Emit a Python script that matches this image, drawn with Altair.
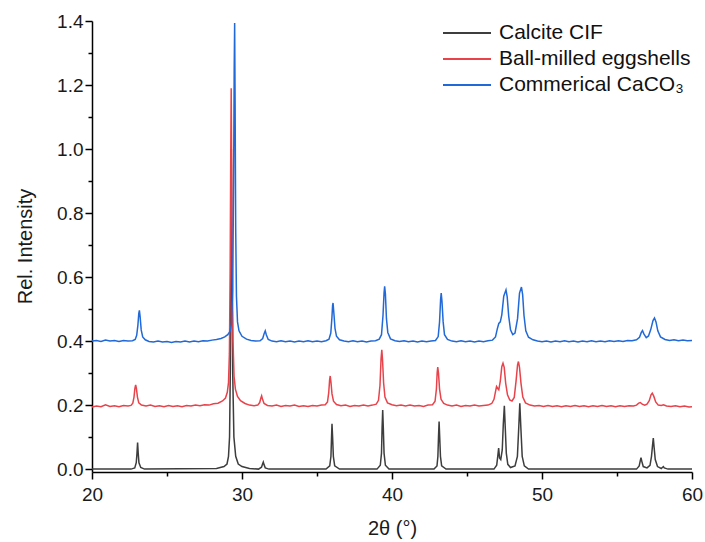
import altair as alt
import pandas as pd

# Series names and line colours
SERIES = ["Calcite CIF", "Ball-milled eggshells", "Commerical CaCO₃"]
COLORS = ["#3d3d3d", "#e8434b", "#2169d8"]

# (2θ, relative intensity) pairs for each pattern
calcite_cif = [
    (20.0, 0.0), (22.6, 0.0), (22.85, 0.004), (22.95, 0.02), (23.0, 0.05), (23.04, 0.083),
    (23.08, 0.05), (23.13, 0.02), (23.25, 0.005), (23.5, 0.0),
    (28.3, 0.002), (28.8, 0.008), (29.0, 0.016), (29.1, 0.04), (29.17, 0.1), (29.22, 0.3),
    (29.26, 0.65), (29.29, 1.0), (29.33, 0.65), (29.38, 0.3), (29.46, 0.1), (29.58, 0.04),
    (29.75, 0.016), (30.0, 0.008), (30.5, 0.002),
    (31.1, 0.0), (31.3, 0.006), (31.37, 0.016), (31.42, 0.022), (31.47, 0.014), (31.55, 0.004), (31.8, 0.0),
    (35.6, 0.0), (35.85, 0.01), (35.93, 0.04), (35.97, 0.1), (36.0, 0.142), (36.04, 0.1),
    (36.09, 0.04), (36.18, 0.01), (36.5, 0.0),
    (39.0, 0.0), (39.22, 0.012), (39.3, 0.05), (39.34, 0.13), (39.38, 0.185), (39.42, 0.13),
    (39.47, 0.05), (39.56, 0.012), (39.8, 0.0),
    (42.8, 0.0), (43.0, 0.01), (43.06, 0.04), (43.1, 0.1), (43.14, 0.149), (43.18, 0.1),
    (43.23, 0.04), (43.31, 0.01), (43.6, 0.0),
    (46.8, 0.0), (46.98, 0.012), (47.05, 0.04), (47.11, 0.066), (47.17, 0.035), (47.25, 0.03),
    (47.35, 0.06), (47.42, 0.14), (47.49, 0.198), (47.55, 0.13), (47.62, 0.05), (47.72, 0.015),
    (47.9, 0.005), (48.2, 0.01), (48.36, 0.04), (48.45, 0.13), (48.52, 0.206), (48.59, 0.13),
    (48.68, 0.04), (48.82, 0.01), (49.1, 0.0),
    (56.3, 0.0), (56.48, 0.01), (56.55, 0.026), (56.6, 0.036), (56.65, 0.025), (56.75, 0.008),
    (57.0, 0.004), (57.2, 0.012), (57.3, 0.04), (57.37, 0.075), (57.42, 0.097), (57.47, 0.07),
    (57.55, 0.03), (57.7, 0.008), (57.95, 0.002), (58.04, 0.006), (58.09, 0.008), (58.15, 0.004),
    (58.4, 0.0), (60.0, 0.0),
]

eggshells = [
    (20.0, 0.194), (20.3, 0.197), (20.6, 0.195), (20.9, 0.201), (21.2, 0.196), (21.5, 0.198),
    (21.8, 0.195), (22.1, 0.199), (22.4, 0.197),
    (22.6, 0.199), (22.72, 0.206), (22.8, 0.225), (22.86, 0.252), (22.91, 0.263), (22.96, 0.252),
    (23.03, 0.225), (23.12, 0.207), (23.3, 0.2),
    (23.6, 0.197), (23.9, 0.2), (24.2, 0.196), (24.5, 0.198), (24.8, 0.195), (25.1, 0.199),
    (25.4, 0.196), (25.7, 0.198), (26.0, 0.195), (26.3, 0.199), (26.6, 0.197), (26.9, 0.2),
    (27.2, 0.198), (27.5, 0.201), (27.8, 0.2), (28.1, 0.204), (28.4, 0.206), (28.7, 0.213),
    (28.9, 0.222), (29.02, 0.24), (29.1, 0.27), (29.16, 0.36), (29.21, 0.62), (29.25, 0.98),
    (29.28, 1.19), (29.31, 0.95), (29.35, 0.62), (29.4, 0.4), (29.47, 0.29), (29.56, 0.25),
    (29.7, 0.227), (29.9, 0.214), (30.2, 0.205), (30.5, 0.2), (30.8, 0.198),
    (31.05, 0.2), (31.18, 0.208), (31.26, 0.222), (31.31, 0.229), (31.37, 0.218), (31.47, 0.205),
    (31.7, 0.199), (32.0, 0.197), (32.3, 0.2), (32.6, 0.196), (32.9, 0.199), (33.2, 0.197),
    (33.5, 0.2), (33.8, 0.196), (34.1, 0.198), (34.4, 0.196), (34.7, 0.199), (35.0, 0.197),
    (35.3, 0.2), (35.55, 0.201), (35.7, 0.21), (35.78, 0.238), (35.84, 0.278), (35.88, 0.291),
    (35.93, 0.272), (36.0, 0.235), (36.1, 0.212), (36.3, 0.202), (36.6, 0.198), (36.9, 0.2),
    (37.2, 0.196), (37.5, 0.199), (37.8, 0.197), (38.1, 0.2), (38.4, 0.197), (38.7, 0.2),
    (38.95, 0.203), (39.1, 0.215), (39.2, 0.262), (39.27, 0.345), (39.32, 0.373), (39.37, 0.34),
    (39.44, 0.27), (39.53, 0.225), (39.7, 0.207), (40.0, 0.201), (40.3, 0.198), (40.6, 0.2),
    (40.9, 0.197), (41.2, 0.2), (41.5, 0.197), (41.8, 0.199), (42.1, 0.196), (42.4, 0.2),
    (42.7, 0.201), (42.87, 0.212), (42.96, 0.25), (43.01, 0.3), (43.05, 0.319), (43.1, 0.3),
    (43.17, 0.25), (43.27, 0.218), (43.45, 0.205), (43.7, 0.2), (44.0, 0.197), (44.3, 0.2),
    (44.6, 0.196), (44.9, 0.199), (45.2, 0.197), (45.5, 0.2), (45.8, 0.197), (46.1, 0.199),
    (46.4, 0.2), (46.65, 0.205), (46.8, 0.218), (46.9, 0.242), (46.97, 0.258), (47.05, 0.252),
    (47.12, 0.248), (47.22, 0.275), (47.32, 0.32), (47.4, 0.331), (47.48, 0.318), (47.58, 0.268),
    (47.7, 0.232), (47.85, 0.216), (48.0, 0.213), (48.15, 0.224), (48.27, 0.275), (48.37, 0.326),
    (48.43, 0.336), (48.5, 0.318), (48.6, 0.268), (48.72, 0.225), (48.9, 0.207), (49.2, 0.2),
    (49.5, 0.197), (49.8, 0.199), (50.1, 0.196), (50.4, 0.199), (50.7, 0.196), (51.0, 0.198),
    (51.3, 0.195), (51.6, 0.198), (51.9, 0.196), (52.2, 0.199), (52.5, 0.196), (52.8, 0.198),
    (53.1, 0.195), (53.4, 0.198), (53.7, 0.196), (54.0, 0.199), (54.3, 0.196), (54.6, 0.198),
    (54.9, 0.195), (55.2, 0.198), (55.5, 0.196), (55.8, 0.198), (56.1, 0.197), (56.3, 0.2),
    (56.45, 0.206), (56.55, 0.208), (56.68, 0.203), (56.85, 0.2), (57.0, 0.203), (57.15, 0.214),
    (57.27, 0.232), (57.35, 0.237), (57.45, 0.228), (57.58, 0.21), (57.75, 0.2), (57.95, 0.199),
    (58.1, 0.201), (58.3, 0.197), (58.6, 0.196), (58.9, 0.198), (59.2, 0.195), (59.5, 0.197),
    (59.8, 0.194), (60.0, 0.195),
]

commercial = [
    (20.0, 0.4), (20.3, 0.402), (20.6, 0.399), (20.9, 0.403), (21.2, 0.4), (21.5, 0.402),
    (21.8, 0.399), (22.1, 0.402), (22.4, 0.4), (22.7, 0.401),
    (22.88, 0.405), (22.98, 0.418), (23.06, 0.45), (23.12, 0.487), (23.16, 0.496), (23.21, 0.475),
    (23.28, 0.435), (23.38, 0.413), (23.55, 0.404), (23.8, 0.399), (24.1, 0.397), (24.4, 0.4),
    (24.7, 0.397), (25.0, 0.399), (25.3, 0.396), (25.6, 0.399), (25.9, 0.397), (26.2, 0.4),
    (26.5, 0.397), (26.8, 0.4), (27.1, 0.398), (27.4, 0.401), (27.7, 0.4), (28.0, 0.403),
    (28.3, 0.405), (28.6, 0.408), (28.85, 0.413), (29.05, 0.42), (29.2, 0.43), (29.3, 0.455),
    (29.38, 0.56), (29.44, 0.9), (29.48, 1.25), (29.51, 1.394), (29.54, 1.15), (29.58, 0.75),
    (29.63, 0.54), (29.7, 0.46), (29.8, 0.432), (30.0, 0.415), (30.3, 0.406), (30.6, 0.402),
    (30.9, 0.4), (31.2, 0.401), (31.38, 0.408), (31.48, 0.424), (31.55, 0.432), (31.62, 0.42),
    (31.75, 0.405), (32.0, 0.4), (32.3, 0.398), (32.6, 0.401), (32.9, 0.398), (33.2, 0.4),
    (33.5, 0.397), (33.8, 0.4), (34.1, 0.398), (34.4, 0.401), (34.7, 0.398), (35.0, 0.4),
    (35.3, 0.398), (35.6, 0.401), (35.8, 0.406), (35.92, 0.425), (35.99, 0.47), (36.04, 0.512),
    (36.07, 0.519), (36.12, 0.49), (36.2, 0.44), (36.3, 0.415), (36.5, 0.404), (36.8, 0.4),
    (37.1, 0.398), (37.4, 0.401), (37.7, 0.398), (38.0, 0.4), (38.3, 0.397), (38.6, 0.4),
    (38.9, 0.401), (39.15, 0.406), (39.3, 0.42), (39.4, 0.48), (39.47, 0.55), (39.51, 0.571),
    (39.56, 0.548), (39.63, 0.47), (39.72, 0.427), (39.9, 0.407), (40.2, 0.401), (40.5, 0.399),
    (40.8, 0.401), (41.1, 0.398), (41.4, 0.4), (41.7, 0.397), (42.0, 0.4), (42.3, 0.398),
    (42.6, 0.4), (42.9, 0.402), (43.08, 0.414), (43.17, 0.46), (43.24, 0.53), (43.28, 0.55),
    (43.33, 0.525), (43.41, 0.46), (43.5, 0.42), (43.7, 0.405), (44.0, 0.4), (44.3, 0.398),
    (44.6, 0.401), (44.9, 0.398), (45.2, 0.4), (45.5, 0.397), (45.8, 0.4), (46.1, 0.398),
    (46.4, 0.401), (46.7, 0.403), (46.9, 0.413), (47.02, 0.438), (47.12, 0.455), (47.22, 0.46),
    (47.32, 0.482), (47.45, 0.54), (47.6, 0.56), (47.68, 0.538), (47.78, 0.478), (47.9, 0.435),
    (48.05, 0.42), (48.2, 0.425), (48.37, 0.47), (48.5, 0.55), (48.63, 0.569), (48.71, 0.545),
    (48.8, 0.48), (48.92, 0.432), (49.1, 0.412), (49.4, 0.404), (49.7, 0.4), (50.0, 0.398),
    (50.3, 0.4), (50.6, 0.397), (50.9, 0.4), (51.2, 0.398), (51.5, 0.401), (51.8, 0.398),
    (52.1, 0.4), (52.4, 0.397), (52.7, 0.4), (53.0, 0.398), (53.3, 0.401), (53.6, 0.398),
    (53.9, 0.4), (54.2, 0.398), (54.5, 0.401), (54.8, 0.399), (55.1, 0.401), (55.4, 0.399),
    (55.7, 0.402), (56.0, 0.401), (56.3, 0.404), (56.5, 0.412), (56.62, 0.427), (56.7, 0.433),
    (56.8, 0.422), (56.95, 0.411), (57.1, 0.416), (57.25, 0.436), (57.4, 0.464), (57.5, 0.472),
    (57.6, 0.46), (57.72, 0.432), (57.9, 0.413), (58.2, 0.405), (58.5, 0.402), (58.8, 0.404),
    (59.1, 0.401), (59.4, 0.403), (59.7, 0.401), (60.0, 0.402),
]

# Axis tick positions (major + minor)
X_TICKS = [20, 25, 30, 35, 40, 45, 50, 55, 60]
Y_TICKS = [0.0, 0.1, 0.2, 0.3, 0.4, 0.5, 0.6, 0.7, 0.8, 0.9, 1.0, 1.1, 1.2, 1.3, 1.4]

rows = []
for name, pts in zip(SERIES, [calcite_cif, eggshells, commercial]):
    for i, (tt, inten) in enumerate(pts):
        rows.append({"series": name, "two_theta": tt, "intensity": inten, "idx": i})
df = pd.DataFrame(rows)

FONT = "Liberation Sans"

x_axis = alt.Axis(
    title="2θ (°)",
    values=X_TICKS,
    labelExpr="datum.value % 10 === 0 ? datum.label : ''",
    format="d",
    tickSize={"condition": {"test": "datum.value % 10 === 0", "value": 7}, "value": 4},
    grid=False,
    labelFlush=False,
    labelPadding=6,
    titleY=56,
    titleBaseline="middle",
)

y_axis = alt.Axis(
    title="Rel. Intensity",
    values=Y_TICKS,
    labelExpr="round(datum.value * 10) % 2 === 0 ? format(datum.value, '.1f') : ''",
    tickSize={"condition": {"test": "round(datum.value * 10) % 2 === 0", "value": 7}, "value": 4},
    grid=False,
    labelFlush=False,
    labelPadding=2,
    titleX=-67,
    titleY=225,
    titleAngle=-90,
    titleBaseline="middle",
    titleAlign="center",
)

chart = (
    alt.Chart(df)
    .mark_line(strokeWidth=1.5, clip=True)
    .encode(
        x=alt.X("two_theta:Q", scale=alt.Scale(domain=[20, 60], nice=False, zero=False), axis=x_axis),
        y=alt.Y("intensity:Q", scale=alt.Scale(domain=[-0.009, 1.4], nice=False, zero=False), axis=y_axis),
        color=alt.Color(
            "series:N",
            scale=alt.Scale(domain=SERIES, range=COLORS),
            sort=SERIES,
            legend=alt.Legend(
                title=None,
                orient="none",
                legendX=364,
                legendY=1,
                # a wide horizontal stroke as the legend key
                symbolType="M-2.4,0L2.4,0",
                symbolSize=400,
                symbolStrokeWidth=1.8,
                labelFontSize=21,
                labelFont=FONT,
                labelColor="#111111",
                labelOffset=21,
                labelLimit=400,
                padding=0,
                rowPadding=5,
            ),
        ),
        order="idx:Q",
    )
    .properties(
        width=600,
        height=451,
        padding={"left": 92, "top": 21, "right": 13, "bottom": 70},
        autosize="none",
    )
    .configure_view(stroke=None)
    .configure_axis(
        domainColor="#000000",
        domainWidth=1.5,
        tickColor="#000000",
        tickWidth=1.5,
        labelFont=FONT,
        labelFontSize=19,
        labelColor="#1a1a1a",
        titleFont=FONT,
        titleFontSize=20,
        titleFontWeight="normal",
        titleColor="#1a1a1a",
    )
)

chart.save("out.html", embed_options={"renderer": "svg", "actions": False})
